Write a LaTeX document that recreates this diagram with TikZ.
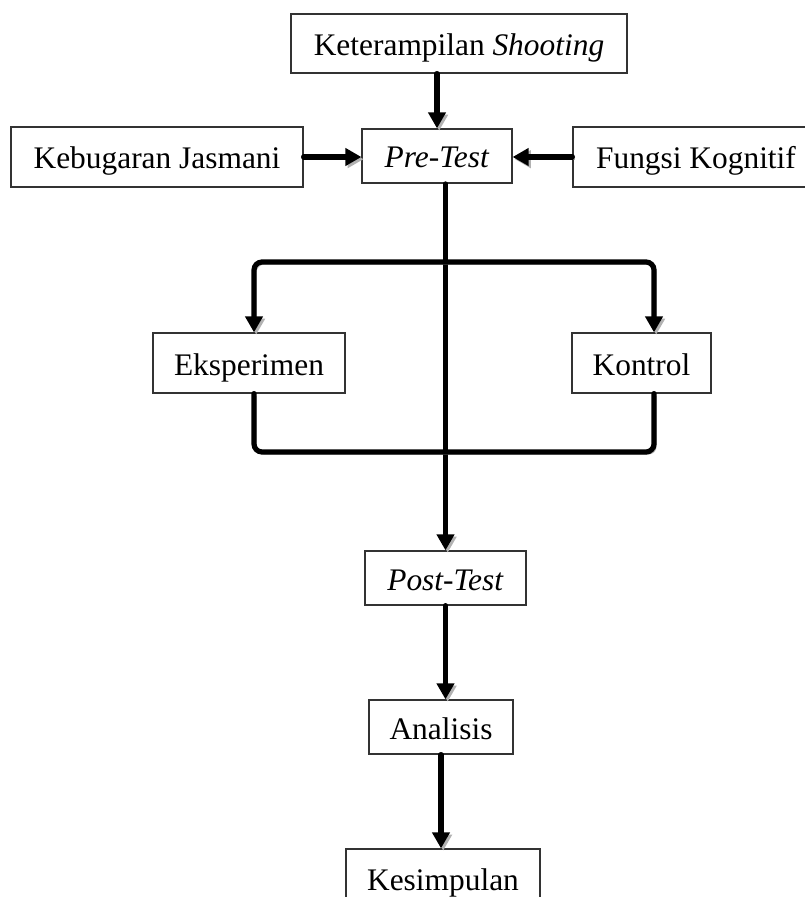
\documentclass[tikz,border=0pt]{standalone}
\usepackage{fontspec}
\setmainfont{Liberation Serif}
\usepackage{tikz}
\usetikzlibrary{positioning, arrows.meta, calc}

\tikzset{
  kotak/.style={draw=black!80, line width=0.6pt, fill=white, inner sep=0pt,
    minimum height=27pt, text height=12pt, text depth=0pt,
    font=\fontsize{15.7pt}{18pt}\selectfont},
  bayang/.style={preaction={draw=black!30, transform canvas={shift={(1.1pt,-1.1pt)}}}},
  panah/.style={bayang, line width=2.6pt, line cap=round,
    -{Triangle[width=8.5pt,length=8pt]}},
  garis/.style={bayang, line width=2.6pt, line cap=round}
}

\begin{document}
\begin{tikzpicture}[x=0.5pt, y=-0.5pt]
      \useasboundingbox (0,0) rectangle (804,897);
      % kotak-kotak
      \node[kotak, minimum width=168pt, minimum height=29.5pt] (shooting) at (459,43.5) {Keterampilan \textit{Shooting}};
      \node[kotak, minimum width=146pt, minimum height=30pt] (kebugaran) at (157,157) {Kebugaran Jasmani};
      \node[kotak, minimum width=75pt] (pretest) at (437,156) {\textit{Pre-Test}};
      \node[kotak, minimum width=123pt, minimum height=30pt] (kognitif) at (696,157) {Fungsi Kognitif};
      \node[kotak, minimum width=96pt, minimum height=30pt] (eksperimen) at (249,363) {Eksperimen};
      \node[kotak, minimum width=69.5pt, minimum height=30pt] (kontrol) at (641.5,363) {Kontrol};
      \node[kotak, minimum width=80.5pt] (posttest) at (445.5,578) {\textit{Post-Test}};
      \node[kotak, minimum width=72pt] (analisis) at (441,727) {Analisis};
      \node[kotak, minimum width=97pt, minimum height=29.5pt] (kesimpulan) at (443,878.5) {Kesimpulan};
      % titik belok cabang
      \coordinate (kiriatas) at (254,262);
      \coordinate (kananatas) at (654,262);
      \coordinate (kiribawah) at (254,452);
      \coordinate (kananbawah) at (654,452);
      % panah masuk pre-test
      \draw[panah] (shooting.south -| pretest.north) -- (pretest.north);
      \draw[panah] (kebugaran.east) -- (kebugaran.east -| pretest.west);
      \draw[panah] (kognitif.west) -- (kognitif.west -| pretest.east);
      % garis tengah
      \draw[panah, line width=2.2pt] (pretest.south -| posttest.north) -- (posttest.north);
      \draw[panah, rounded corners=4pt, {Triangle[width=8.5pt,length=8pt]}-{Triangle[width=8.5pt,length=8pt]}]
        (eksperimen.north -| kiriatas) -- (kiriatas) -- (kananatas) -- (kontrol.north -| kananatas);
      \draw[garis, rounded corners=4pt]
        (eksperimen.south -| kiribawah) -- (kiribawah) -- (kananbawah) -- (kontrol.south -| kananbawah);
      \draw[panah] (posttest.south) -- (posttest.south |- analisis.north);
      \draw[panah] (analisis.south) -- (analisis.south |- kesimpulan.north);
    \end{tikzpicture}
\end{document}
